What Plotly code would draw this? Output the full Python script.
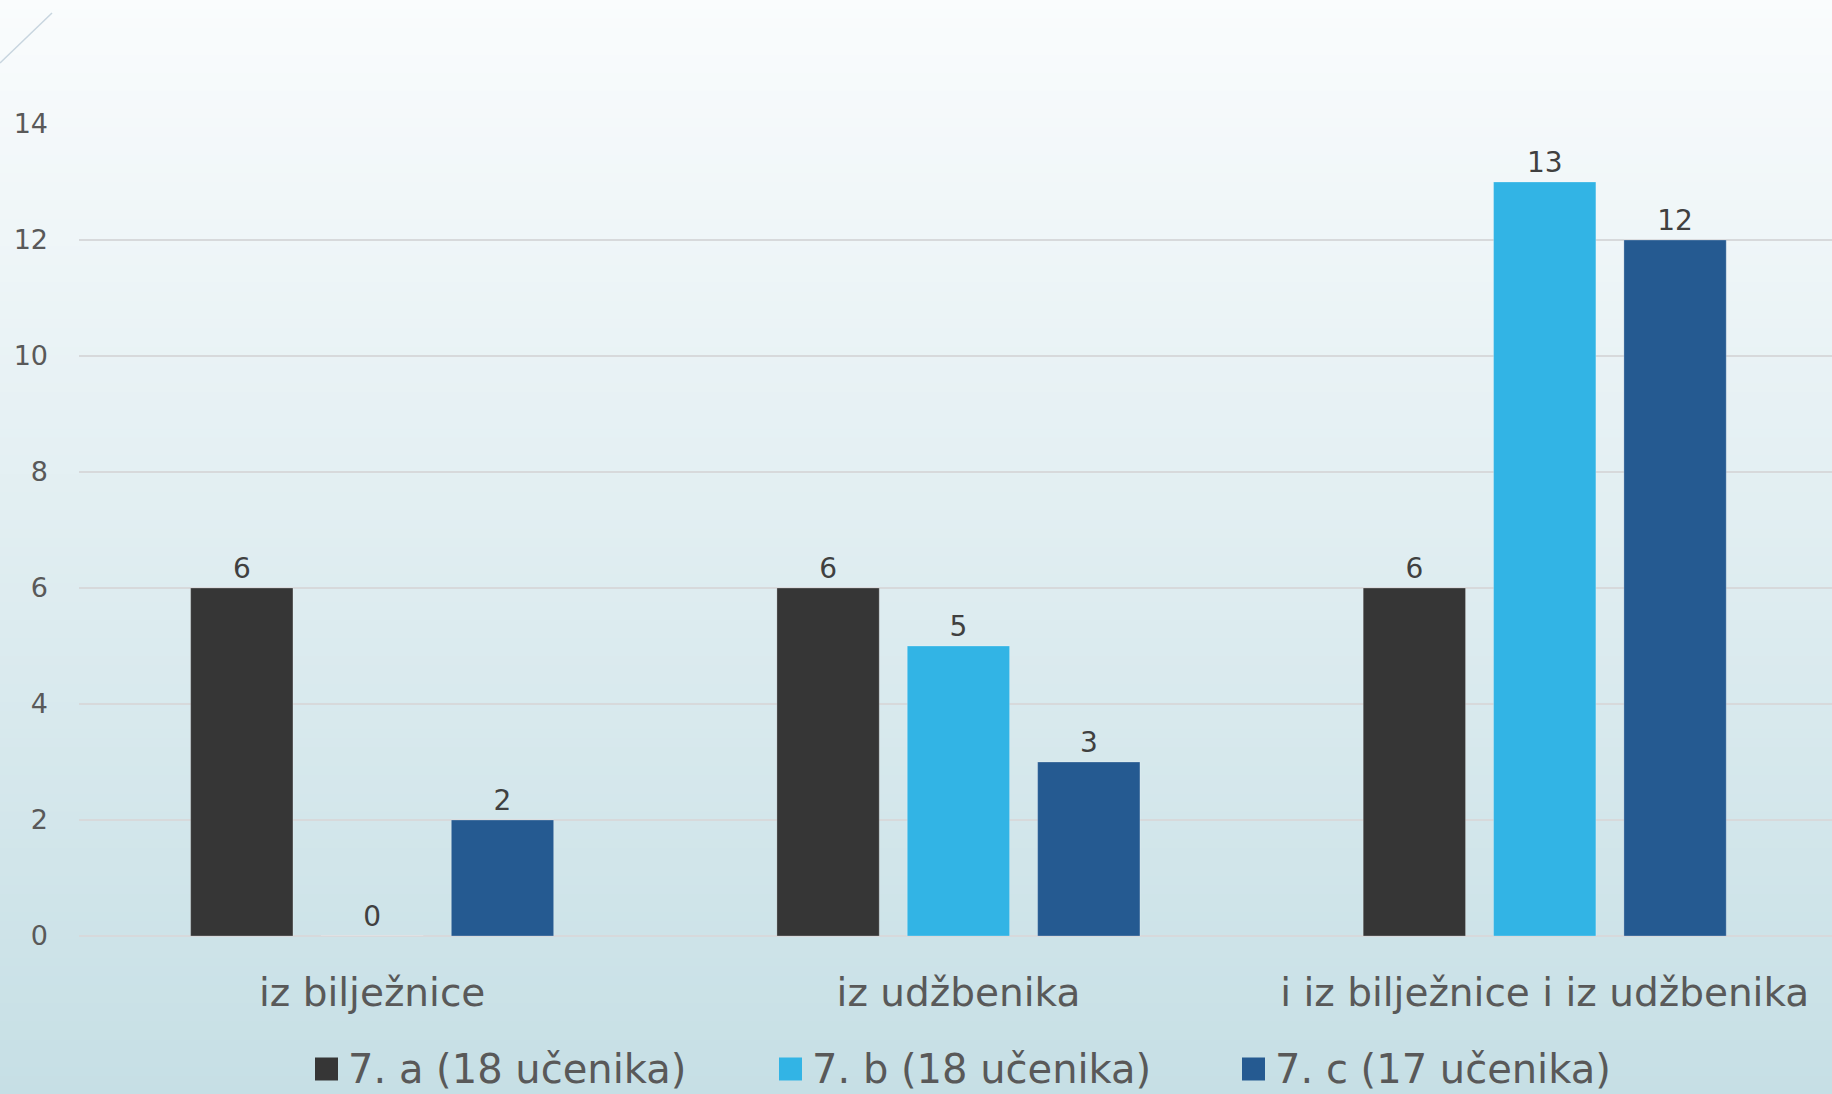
import plotly.graph_objects as go

categories = ["iz bilježnice", "iz udžbenika", "i iz bilježnice i iz udžbenika"]
series_names = ["7. a (18 učenika)", "7. b (18 učenika)", "7. c (17 učenika)"]
series_values = [
    [6, 6, 6],
    [0, 5, 13],
    [2, 3, 12],
]
series_colors = ["#363636", "#32b4e5", "#255a91"]
y_ticks = [0, 2, 4, 6, 8, 10, 12, 14]

W, H = 1832, 1094
ML, MR, MT, MB = 79, 0, 124, 158
PW, PH = W - ML - MR, H - MT - MB
FONT = "DejaVu Sans"


def px(x):
    return (x - ML) / PW


def py(y):
    return (H - MB - y) / PH


fig = go.Figure()
for name, vals, col in zip(series_names, series_values, series_colors):
    fig.add_trace(go.Bar(
        x=categories, y=vals, name=name,
        marker=dict(color=col, line=dict(color="rgba(255,255,255,0.25)", width=1)),
        text=[str(v) for v in vals], textposition="outside",
        textfont=dict(family=FONT, size=28, color="#404040"),
        cliponaxis=False, showlegend=False,
    ))

shapes = []
# background gradient
top = (250, 252, 253)
bot = (198, 223, 229)
N = 120
for i in range(N):
    t = (i + 0.5) / N
    c = tuple(round(top[k] + (bot[k] - top[k]) * t) for k in range(3))
    y0 = H * i / N
    y1 = H * (i + 1) / N + 1
    shapes.append(dict(type="rect", xref="paper", yref="paper",
                       x0=px(-2), x1=px(W + 2), y0=py(y1), y1=py(y0 - (2 if i == 0 else 0)),
                       fillcolor="rgb(%d,%d,%d)" % c, line=dict(width=0), layer="below"))
# decorative corner line
shapes.append(dict(type="line", xref="paper", yref="paper",
                   x0=px(0), y0=py(63), x1=px(52), y1=py(13),
                   line=dict(color="#c8d5df", width=1.5)))

# custom legend (squares + labels)
annotations = []
leg_x = [315, 779, 1242]
leg_y = 1069
sq = 23
for name, col, lx in zip(series_names, series_colors, leg_x):
    shapes.append(dict(type="rect", xref="paper", yref="paper",
                       x0=px(lx), x1=px(lx + sq), y0=py(leg_y + sq / 2), y1=py(leg_y - sq / 2),
                       fillcolor=col, line=dict(width=0)))
    annotations.append(dict(xref="paper", yref="paper", x=px(lx + sq + 8), y=py(leg_y),
                            text=name, showarrow=False, xanchor="left", yanchor="middle",
                            font=dict(family=FONT, size=40, color="#595959")))

fig.update_layout(
    width=W, height=H,
    margin=dict(l=ML, r=MR, t=MT, b=MB, pad=0),
    paper_bgcolor="rgb(198,223,229)",
    plot_bgcolor="rgba(0,0,0,0)",
    barmode="group", bargap=0.333, bargroupgap=0.215,
    shapes=shapes, annotations=annotations,
    showlegend=False,
    font=dict(family=FONT, color="#595959"),
)
fig.update_xaxes(
    range=[-0.5, 2.49], showgrid=False, showline=False, zeroline=False,
    ticks="", tickfont=dict(family=FONT, size=39, color="#595959"),
    ticklabelstandoff=30,
)
fig.update_yaxes(
    range=[0, 14], tickvals=y_ticks, showgrid=True, gridcolor="#d7d9db", gridwidth=2,
    zeroline=True, zerolinecolor="#d7d9db", zerolinewidth=2, showline=False,
    ticks="", tickfont=dict(family=FONT, size=27, color="#595959"),
    ticklabelstandoff=30,
)

fig.write_html("out.html", config={"displayModeBar": False},
               post_script="document.body.style.margin='0';document.body.style.overflow='hidden';")
